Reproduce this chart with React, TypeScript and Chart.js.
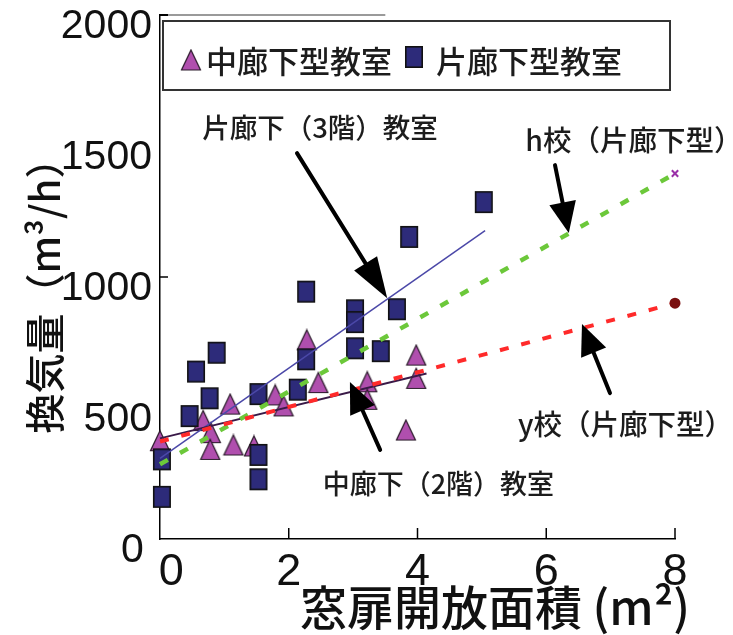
import React, { useEffect, useRef } from 'react';
import { Chart, registerables } from 'chart.js';

Chart.register(...registerables);

// ---- data ----
const nakaX = [0, 0.67, 0.79, 0.78, 1.09, 1.14, 1.46, 1.79, 1.92, 2.28, 2.46, 3.22, 3.22, 3.98, 3.98, 3.82];
const nakaY = [375, 452, 406, 342, 515, 359, 355, 550, 508, 760, 597, 600, 533, 702, 613, 416];

const kataX = [0.03, 0.03, 0.46, 0.56, 0.77, 0.88, 1.53, 1.53, 1.53, 2.14, 2.27, 2.27, 3.03, 3.03, 3.03, 3.43, 3.68, 3.87, 5.03];
const kataY = [161, 304, 469, 639, 537, 711, 553, 321, 228, 570, 686, 944, 873, 828, 728, 717, 877, 1153, 1286];

const nakaFitX = [0, 4.14];
const nakaFitY = [384, 632];
const kataFitX = [0, 5.05];
const kataFitY = [308, 1177];
const hFitX = [0, 8];
const hFitY = [285, 1395];
const yFitX = [0, 8];
const yFitY = [372, 900];

const seriesLabels = ['中廊下型教室', '片廊下型教室'];

const xTickValues = [0, 2, 4, 6, 8];
const xTickLabels = ['\u20020', '2', '4', '6', '8'];
const yTickValues = [0, 500, 1000, 1500, 2000];
const yTickLabels = ['0\u2009', '500', '1000', '1500', '2000'];

const xTitle = '窓扉開放面積 (m²)';
const yTitle = '換気量（m³/h）  ';

const noteTexts = ['片廊下（3階）教室', 'h校（片廊下型）', 'y校（片廊下型）', '中廊下（2階）教室'];
const noteX = [2.485, 7.36, 7.23, 4.325];
const noteY = [1569, 1523, 437, 212];

const arrowFromX = [2.128, 6.136, 6.99, 3.42];
const arrowFromY = [1473, 1427, 557, 340];
const arrowToX = [3.53, 6.35, 6.555, 2.95];
const arrowToY = [919, 1168, 821, 599];

const insideTicksX = [2, 4, 6, 8];
const insideTicksY = [1000];

const CJK = "'Noto Sans CJK JP', 'Noto Sans CJK SC', sans-serif";
const NUM = "'Liberation Sans Narrow', 'Arial Narrow', 'Liberation Sans', Arial, sans-serif";
const noteSizes = [27.5, 28.5, 28.5, 27];

function pts(xs: number[], ys: number[]) {
  return xs.map((x, i) => ({ x, y: ys[i] }));
}

function makeRect(w: number, h: number, fill: string, stroke: string) {
  const c = document.createElement('canvas');
  c.width = w + 2;
  c.height = h + 2;
  const ctx = c.getContext('2d')!;
  ctx.fillStyle = fill;
  ctx.fillRect(1, 1, w, h);
  ctx.strokeStyle = stroke;
  ctx.lineWidth = 1.6;
  ctx.strokeRect(1.8, 1.8, w - 1.6, h - 1.6);
  return c;
}

function makeTri(w: number, h: number, fill: string, stroke: string) {
  const c = document.createElement('canvas');
  c.width = w + 2;
  c.height = h + 2;
  const ctx = c.getContext('2d')!;
  ctx.beginPath();
  ctx.moveTo(1 + w / 2, 1.5);
  ctx.lineTo(w + 0.5, h + 0.5);
  ctx.lineTo(1.5, h + 0.5);
  ctx.closePath();
  ctx.fillStyle = fill;
  ctx.fill();
  ctx.strokeStyle = stroke;
  ctx.lineWidth = 1.2;
  ctx.stroke();
  return c;
}

function drawArrow(ctx: CanvasRenderingContext2D, x1: number, y1: number, x2: number, y2: number, headLen: number, headHalf: number) {
  const ang = Math.atan2(y2 - y1, x2 - x1);
  const bx = x2 - headLen * Math.cos(ang);
  const by = y2 - headLen * Math.sin(ang);
  ctx.beginPath();
  ctx.moveTo(x1, y1);
  ctx.lineTo(bx + 2 * Math.cos(ang), by + 2 * Math.sin(ang));
  ctx.lineWidth = 4;
  ctx.strokeStyle = '#000';
  ctx.lineCap = 'round';
  ctx.stroke();
  ctx.beginPath();
  ctx.moveTo(x2, y2);
  ctx.lineTo(bx + headHalf * Math.sin(ang), by - headHalf * Math.cos(ang));
  ctx.lineTo(bx - headHalf * Math.sin(ang), by + headHalf * Math.cos(ang));
  ctx.closePath();
  ctx.fillStyle = '#000';
  ctx.fill();
}

export default function App() {
  const ref = useRef<HTMLCanvasElement | null>(null);

  useEffect(() => {
    if (!ref.current) return;
    const triImg = makeTri(20, 21, '#b04fae', '#2a1a2a');
    const sqImg = makeRect(18, 22, '#2d2b7a', '#111');

    const decor = {
      id: 'decor',
      afterDraw(chart: any) {
        const { ctx, chartArea } = chart;
        const xs = chart.scales.x;
        const ys = chart.scales.y;
        ctx.save();
        // partial top border
        ctx.strokeStyle = '#9a9a9a';
        ctx.lineWidth = 2;
        ctx.beginPath();
        ctx.moveTo(chartArea.left, chartArea.top);
        ctx.lineTo(xs.getPixelForValue(3.5), chartArea.top);
        ctx.stroke();
        ctx.strokeStyle = '#000';
        ctx.beginPath();
        ctx.moveTo(chartArea.left, chartArea.top);
        ctx.lineTo(chartArea.left + 8, chartArea.top);
        ctx.stroke();
        // inside ticks
        ctx.lineWidth = 1.5;
        insideTicksX.forEach((v) => {
          const px = xs.getPixelForValue(v);
          ctx.beginPath();
          ctx.moveTo(px, chartArea.bottom);
          ctx.lineTo(px, chartArea.bottom - 11);
          ctx.stroke();
        });
        insideTicksY.forEach((v) => {
          const py = ys.getPixelForValue(v);
          ctx.beginPath();
          ctx.moveTo(chartArea.left, py);
          ctx.lineTo(chartArea.left + 8, py);
          ctx.stroke();
        });
        // arrows
        arrowFromX.forEach((_, i) => {
          const big = i === 0;
          drawArrow(
            ctx,
            xs.getPixelForValue(arrowFromX[i]),
            ys.getPixelForValue(arrowFromY[i]),
            xs.getPixelForValue(arrowToX[i]),
            ys.getPixelForValue(arrowToY[i]),
            big ? 41 : 31,
            big ? 13.5 : 13.5
          );
        });
        // notes
        ctx.fillStyle = '#1c1c1c';
        ctx.textAlign = 'center';
        ctx.textBaseline = 'middle';
        noteTexts.forEach((t, i) => {
          ctx.font = `500 ${noteSizes[i]}px ${CJK}`;
          ctx.fillText(t, xs.getPixelForValue(noteX[i]), ys.getPixelForValue(noteY[i]));
        });
        // x axis title
        ctx.font = `500 47px ${CJK}`;
        ctx.textAlign = 'right';
        ctx.fillStyle = '#111';
        ctx.fillText(xTitle, xs.getPixelForValue(8) + 15, 607);
        // legend box
        ctx.strokeStyle = '#333';
        ctx.lineWidth = 2;
        ctx.strokeRect(163, 21, 507, 69);
        ctx.drawImage(triImg, 191 - triImg.width / 2, 60 - triImg.height / 2);
        ctx.drawImage(sqImg, 414 - sqImg.width / 2, 57 - sqImg.height / 2);
        ctx.font = `500 31px ${CJK}`;
        ctx.textAlign = 'left';
        ctx.fillStyle = '#1c1c1c';
        ctx.fillText(chart.data.datasets[5].label, 206, 61);
        ctx.fillText(chart.data.datasets[4].label, 436, 61);
        ctx.restore();
      },
    };

    const chart = new Chart(ref.current, {
      type: 'scatter',
      data: {
        datasets: [
          {
            label: 'y校（片廊下型）',
            data: pts(yFitX, yFitY),
            showLine: true,
            borderColor: '#ff2a2a',
            borderWidth: 4,
            borderDash: [9, 13],
            pointRadius: [0, 3.5],
            pointStyle: 'circle',
            pointBackgroundColor: '#7a1010',
            pointBorderColor: '#7a1010',
            order: 0,
            clip: false,
          },
          {
            label: 'h校（片廊下型）',
            data: pts(hFitX, hFitY),
            showLine: true,
            borderColor: '#6cc83a',
            borderWidth: 4.5,
            borderDash: [9, 14],
            pointRadius: [0, 4.5],
            pointStyle: 'crossRot',
            pointBorderColor: '#9a30a8',
            pointBorderWidth: 2,
            order: 1,
            clip: false,
          },
          {
            label: '中廊下(2階)教室',
            data: pts(nakaFitX, nakaFitY),
            showLine: true,
            borderColor: '#3a1a48',
            borderWidth: 2,
            pointRadius: 0,
            order: 2,
            clip: false,
          },
          {
            label: '片廊下(3階)教室',
            data: pts(kataFitX, kataFitY),
            showLine: true,
            borderColor: '#4b48a8',
            borderWidth: 1.5,
            pointRadius: 0,
            order: 3,
            clip: false,
          },
          {
            label: seriesLabels[1],
            data: pts(kataX, kataY),
            pointStyle: sqImg,
            pointRadius: 10,
            order: 4,
            clip: false,
          },
          {
            label: seriesLabels[0],
            data: pts(nakaX, nakaY),
            pointStyle: triImg,
            pointRadius: 10,
            order: 5,
            clip: false,
          },
        ],
      },
      options: {
        animation: false,
        responsive: false,
        devicePixelRatio: 1,
        layout: { padding: { top: 15, right: 58, left: 0, bottom: 0 } },
        plugins: {
          legend: { display: false },
          tooltip: { enabled: false },
        },
        scales: {
          x: {
            type: 'linear',
            min: 0,
            max: 8,
            afterBuildTicks: (s: any) => {
              s.ticks = xTickValues.map((v) => ({ value: v }));
            },
            afterFit: (s: any) => {
              s.height = 96;
              s.paddingLeft = 0;
              s.paddingRight = 0;
            },
            grid: { display: false, drawTicks: false },
            border: { display: true, color: '#000', width: 1.5 },
            ticks: {
              padding: 7,
              color: '#111',
              maxRotation: 0,
              autoSkip: false,
              font: { family: NUM, size: 45 },
              callback: (v: any) => xTickLabels[xTickValues.indexOf(Number(v))],
            },
            title: { display: false, text: xTitle },
          },
          y: {
            type: 'linear',
            min: 0,
            max: 2000,
            afterBuildTicks: (s: any) => {
              s.ticks = yTickValues.map((v) => ({ value: v }));
            },
            afterFit: (s: any) => {
              s.width = 160;
              s.paddingTop = 0;
              s.paddingBottom = 0;
            },
            grid: { display: false, drawTicks: false },
            border: { display: true, color: '#000', width: 1.5 },
            ticks: {
              padding: 8,
              labelOffset: 12,
              color: '#111',
              autoSkip: false,
              font: { family: NUM, size: 41 },
              callback: (v: any) => yTickLabels[yTickValues.indexOf(Number(v))],
            },
            title: {
              display: true,
              text: yTitle,
              color: '#111',
              font: { family: CJK, size: 40, weight: '500' },
              padding: { top: 21, bottom: 0 },
            },
          },
        },
      },
      plugins: [decor],
    } as any);

    return () => chart.destroy();
  }, []);

  return (
    <div style={{ position: 'absolute', left: 0, top: 0, width: 733, height: 635, background: '#fff' }}>
      <canvas ref={ref} width={733} height={635} style={{ width: 733, height: 635 }} />
    </div>
  );
}
